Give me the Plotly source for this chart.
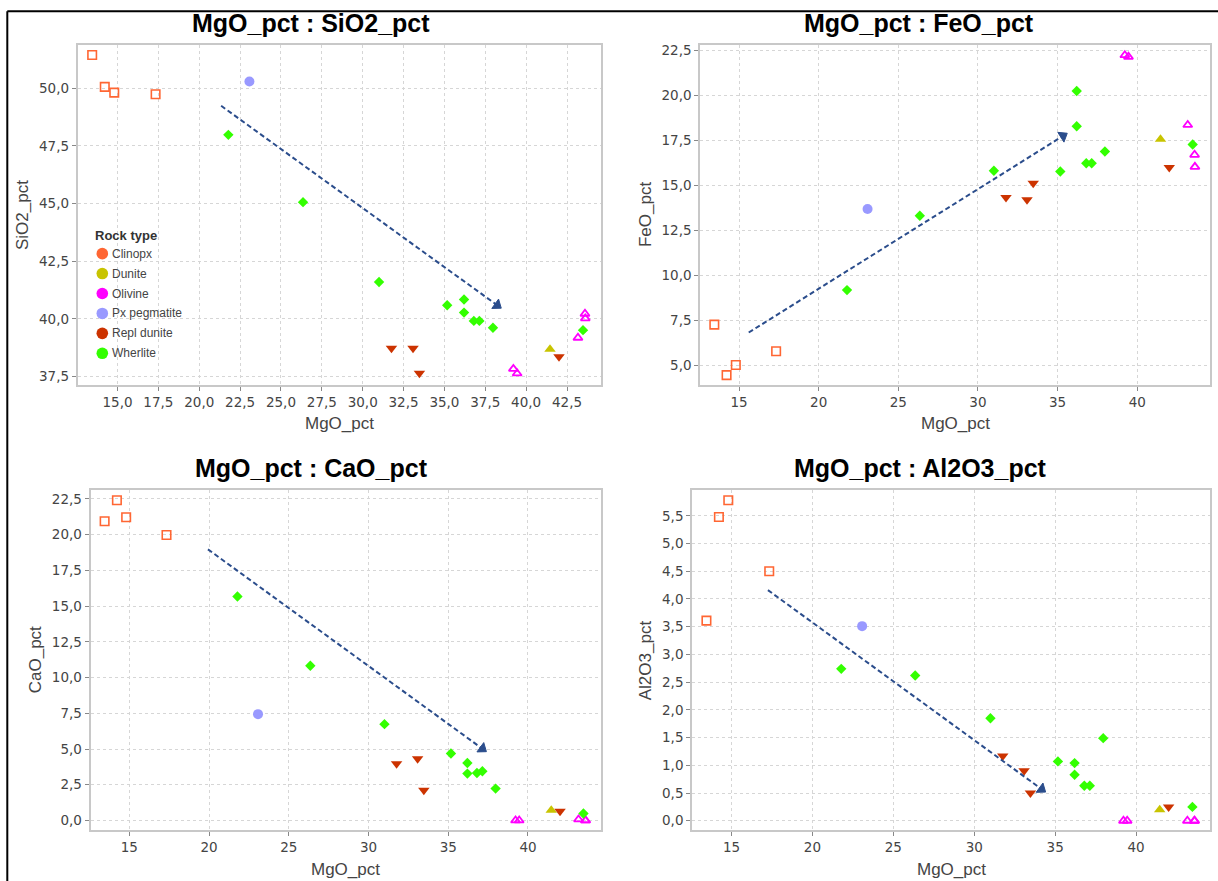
import plotly.graph_objects as go

# ---- sample data (wt %) ----
rock_type = (["Clinopx"] * 4 + ["Px pegmatite"] + ["Wherlite"] * 10 +
             ["Repl dunite"] * 4 + ["Dunite"] + ["Olivine"] * 5)
mgo_pct = [13.45, 14.22, 14.80, 17.33, 23.07,
           21.78, 26.35, 31.00, 35.17, 36.20, 36.20, 36.80, 37.14, 37.97, 43.48,
           31.76, 33.08, 33.47, 42.01, 41.46,
           39.22, 39.45, 43.17, 43.60, 43.62]
sio2_pct = [51.44, 50.06, 49.81, 49.74, 50.29,
            47.98, 45.06, 41.60, 40.59, 40.84, 40.27, 39.91, 39.91, 39.61, 39.51,
            38.72, 38.72, 37.64, 38.36, 38.68,
            37.83, 37.63, 39.18, 40.22, 40.02]
feo_pct = [7.25, 4.44, 5.00, 5.77, 13.68,
           9.17, 13.31, 15.81, 15.77, 20.25, 18.29, 16.23, 16.23, 16.88, 17.27,
           14.33, 14.20, 15.12, 15.99, 17.56,
           22.24, 22.15, 18.36, 16.70, 16.03]
cao_pct = [20.94, 22.41, 21.22, 19.97, 7.44,
           15.67, 10.83, 6.74, 4.69, 4.02, 3.28, 3.32, 3.44, 2.23, 0.49,
           3.97, 4.32, 2.11, 0.65, 0.72,
           0.00, 0.00, 0.07, 0.00, 0.00]
al2o3_pct = [3.61, 5.48, 5.78, 4.50, 3.51,
             2.74, 2.62, 1.85, 1.07, 1.04, 0.83, 0.63, 0.63, 1.49, 0.25,
             1.17, 0.90, 0.50, 0.25, 0.20,
             0.00, 0.00, 0.00, 0.00, 0.00]

rock_types = ["Clinopx", "Dunite", "Olivine", "Px pegmatite", "Repl dunite", "Wherlite"]

# trend arrows: (MgO start, oxide start, MgO end, oxide end)
trend_sio2 = [21.34, 49.24, 38.23, 40.59]
trend_feo = [15.61, 6.81, 35.34, 17.75]
trend_cao = [19.93, 18.97, 37.14, 5.02]
trend_al2o3 = [17.25, 4.16, 34.16, 0.57]

# ---- styling ----
W, H = 1218, 881
colors = {"Clinopx": "#ff6633", "Dunite": "#c8c400", "Olivine": "#ff00ff",
          "Px pegmatite": "#9999ff", "Repl dunite": "#cc3300", "Wherlite": "#33ff00"}
symbols = {"Clinopx": "square-open", "Dunite": "triangle-up", "Olivine": "triangle-up-open",
           "Px pegmatite": "circle", "Repl dunite": "triangle-down", "Wherlite": "diamond"}
sizes = {"Clinopx": 8.5, "Dunite": 10, "Olivine": 8,
         "Px pegmatite": 10, "Repl dunite": 10, "Wherlite": 8}
line_w = {"Clinopx": 1.6, "Olivine": 1.8}
arrow_color = "#2b4d8c"


def px(x):
    return x / W


def py(y):
    return 1 - y / H


# panels: (oxide values, title, y label, trend, pixel box l,r,t,b, x dtick, x fmt,
#          y dtick, y range, title centre, y-label x)
panels = [
    (sio2_pct, "MgO_pct : SiO2_pct", "SiO2_pct", trend_sio2, (77.8, 601, 42.3, 383.3),
     2.5, ".1f", 2.5, [37.13, 51.87], (311, 20), 22),
    (feo_pct, "MgO_pct : FeO_pct", "FeO_pct", trend_feo, (700.3, 1210.2, 42.3, 383.3),
     5, "d", 2.5, [3.89, 22.8], (919, 20), 645),
    (cao_pct, "MgO_pct : CaO_pct", "CaO_pct", trend_cao, (90.6, 601, 489, 830),
     5, "d", 2.5, [-0.68, 23.1], (311, 467), 35),
    (al2o3_pct, "MgO_pct : Al2O3_pct", "Al2O3_pct", trend_al2o3, (692.2, 1210.2, 489, 830),
     5, "d", 0.5, [-0.17, 5.96], (920, 467), 645),
]
x_range = [12.57, 44.58]

fig = go.Figure()
annotations = []
shapes = []
tick_font = dict(family="DejaVu Sans", size=13.5, color="#444444")

for i, (vals, title, ylab, trend, box, xdt, xfmt, ydt, yrng, tpos, ylab_x) in enumerate(panels):
    n = "" if i == 0 else str(i + 1)
    xa, ya = "x" + n, "y" + n
    for rt in rock_types:
        xs = [m for m, r in zip(mgo_pct, rock_type) if r == rt]
        ys = [v for v, r in zip(vals, rock_type) if r == rt]
        open_sym = symbols[rt].endswith("open")
        fig.add_trace(go.Scatter(
            x=xs, y=ys, mode="markers", name=rt, showlegend=False,
            xaxis=xa, yaxis=ya,
            marker=dict(symbol=symbols[rt], size=sizes[rt], color=colors[rt],
                        line=dict(width=line_w.get(rt, 0) if open_sym else 0,
                                  color=colors[rt])),
        ))
    # dashed trend line
    fig.add_trace(go.Scatter(
        x=[trend[0], trend[2]], y=[trend[1], trend[3]], mode="lines",
        showlegend=False, xaxis=xa, yaxis=ya, hoverinfo="skip",
        line=dict(color=arrow_color, width=2, dash="5px,3px"),
    ))
    # solid arrow head oriented along the trend
    fig.add_trace(go.Scatter(
        x=[trend[0], trend[2]], y=[trend[1], trend[3]], mode="markers",
        showlegend=False, xaxis=xa, yaxis=ya, hoverinfo="skip",
        marker=dict(symbol="triangle-up", size=[0, 10], color=arrow_color, opacity=1,
                    angleref="previous", line=dict(width=1, color=arrow_color)),
    ))

    l, r, t, b = box
    axis_common = dict(showline=True, mirror=True, linecolor="#c8c8c8", linewidth=2,
                       showgrid=True, gridcolor="#d6d6d6", gridwidth=1, griddash="3px,3px",
                       ticks="outside", ticklen=4, tickcolor="#888888", tickwidth=1,
                       tickfont=tick_font, zeroline=False)
    fig.update_layout(**{
        ("xaxis" + n): dict(domain=[px(l), px(r)], anchor=ya, range=x_range,
                            tick0=0, dtick=xdt, tickformat=xfmt, **axis_common),
        ("yaxis" + n): dict(domain=[py(b), py(t)], anchor=xa, range=yrng,
                            tick0=0, dtick=ydt, tickformat=".1f", **axis_common),
    })

    # panel title
    annotations.append(dict(text="<b>%s</b>" % title, x=px(tpos[0]), y=py(tpos[1]),
                            xref="paper", yref="paper", showarrow=False,
                            xanchor="center", yanchor="middle",
                            font=dict(family="Liberation Sans", size=25, color="#000000")))
    # axis titles
    annotations.append(dict(text="MgO_pct", x=px((l + r) / 2), y=py(b + 39),
                            xref="paper", yref="paper", showarrow=False,
                            xanchor="center", yanchor="middle",
                            font=dict(family="Liberation Sans", size=17, color="#444444")))
    annotations.append(dict(text=ylab, x=px(ylab_x), y=py((t + b) / 2), textangle=-90,
                            xref="paper", yref="paper", showarrow=False,
                            xanchor="center", yanchor="middle",
                            font=dict(family="Liberation Sans", size=17, color="#444444")))

# legend block inside the first panel
annotations.append(dict(text="<b>Rock type</b>", x=px(92.5), y=py(233.5), xref="paper",
                        yref="paper", showarrow=False, xanchor="left", yanchor="middle",
                        font=dict(family="Liberation Sans", size=13, color="#333333")))
leg_y = [251.5, 271.5, 291.5, 311.5, 331.5, 351.5]
for rt, yy in zip(rock_types, leg_y):
    rad = 5.8
    shapes.append(dict(type="circle", xref="paper", yref="paper",
                       x0=px(102.3 - rad), x1=px(102.3 + rad),
                       y0=py(yy + rad), y1=py(yy - rad),
                       fillcolor=colors[rt], line=dict(width=0)))
    annotations.append(dict(text=rt, x=px(109.5), y=py(yy), xref="paper", yref="paper",
                            showarrow=False, xanchor="left", yanchor="middle",
                            font=dict(family="Liberation Sans", size=12, color="#444444")))

# outer frame lines (left and top)
shapes.append(dict(type="line", xref="paper", yref="paper",
                   x0=px(7.3), x1=px(7.3), y0=0, y1=py(8.3),
                   line=dict(color="#000000", width=2)))
shapes.append(dict(type="line", xref="paper", yref="paper",
                   x0=px(7.3), x1=1, y0=py(8.3), y1=py(8.3),
                   line=dict(color="#000000", width=2)))

fig.update_layout(
    width=W, height=H, margin=dict(l=0, r=0, t=0, b=0),
    paper_bgcolor="#ffffff", plot_bgcolor="#ffffff",
    separators=", ", showlegend=False,
    annotations=annotations, shapes=shapes,
    font=dict(family="Liberation Sans"),
)

fig.write_html("out.html")
